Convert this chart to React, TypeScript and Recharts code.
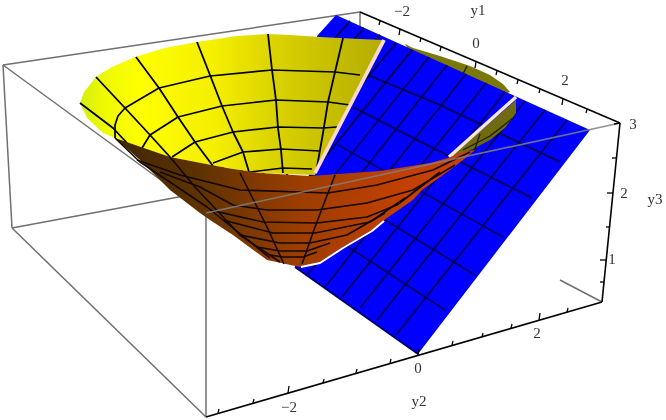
import React from "react";
import { ScatterChart, Scatter, XAxis, YAxis } from "recharts";

type P = [number, number];

const boxBack: P[][] = [
  [[3, 65], [360, 12], [360, 30]],
  [[3, 65], [12, 228]],
  [[3, 65], [206, 213]],
  [[12, 228], [200, 193]],
  [[12, 228], [206, 417]],
  [[206, 213], [206, 417]],
  [[560, 280], [602, 302]],
];
const boxFront: P[] = [[206, 213], [620, 123]];
const axisY1: P[] = [[360, 12], [620, 123]];
const axisY3: P[] = [[620, 123], [602, 302]];
const axisY2: P[] = [[206, 417], [602, 302]];
const y1Ticks: P[][] = [
  [[380, 21], [379, 25]], [[400, 29], [399, 35]], [[421, 38], [420, 42]], [[441, 47], [440, 51]],
  [[476, 62], [475, 68]], [[497, 71], [496, 75]], [[518, 80], [517, 84]], [[540, 89], [539, 93]],
  [[563, 98], [562, 105]], [[587, 109], [586, 113]],
];
const y2Ticks: P[][] = [
  [[218, 413], [219, 409]], [[253, 403], [254, 399]], [[288, 393], [289, 386]], [[323, 383], [324, 379]],
  [[356, 373], [357, 369]], [[390, 363], [391, 359]], [[418, 355], [419, 349]], [[452, 345], [453, 341]],
  [[482, 337], [483, 333]], [[511, 328], [512, 324]], [[539, 320], [540, 313]], [[567, 312], [568, 308]],
];
const y3Ticks: P[][] = [
  [[620, 123], [614, 124]], [[616, 158], [612, 158]], [[613, 193], [607, 193]], [[610, 227], [606, 227]],
  [[606, 260], [600, 260]], [[604, 282], [600, 282]],
];

const planeOutline: P[] = [[336, 15], [590, 130], [418, 354], [295, 267], [300, 220], [325, 120], [317, 36]];
const planeFarTop: P[] = [[418, 354], [295, 267]];
const planeLinesA: P[][] = [
  [[396, 335], [567, 120]], [[377, 320], [545, 110]], [[360, 308], [525, 101]], [[342, 297], [505, 92]],
  [[325, 287], [486, 83]], [[307, 275], [466, 74]], [[290, 263], [447, 65]], [[273, 252], [429, 57]],
  [[257, 241], [412, 50]], [[241, 230], [396, 43]], [[225, 219], [380, 35]], [[209, 208], [364, 28]],
  [[195, 199], [350, 21]],
];
const planeLinesB: P[][] = [
  [[445, 310], [353, 250], [300, 215]],
  [[475, 275], [385, 220], [320, 182]],
  [[503, 237], [440, 202], [338, 145]],
  [[532, 198], [417, 140], [353, 107]],
  [[560, 162], [440, 105], [368, 75], [330, 58]],
];

const olivePieceTop: P[] = [[405, 44], [413, 48], [440, 56], [470, 66], [490, 75], [503, 84], [510, 92], [490, 100], [420, 70]];
const olivePieceSide: P[] = [[516, 100], [516, 113], [505, 128], [490, 140], [473, 149], [462, 154], [449, 158]];
const oliveLines: P[][] = [
  [[513, 118], [490, 136], [463, 150]],
  [[480, 134], [474, 152]],
  [[467, 66], [463, 74]],
];

const bowlInside: P[] = [
  [80, 103], [84, 92], [96, 77], [112, 67], [135, 57], [165, 48], [197, 42], [237, 36], [268, 34], [290, 35],
  [320, 37], [360, 39], [383, 40], [315, 175], [260, 173], [227, 168], [170, 157], [115, 138], [103, 133], [87, 118],
];
const insideRadial: P[][] = [
  [[80, 103], [113, 128], [127, 143]],
  [[96, 77], [125, 108], [150, 135], [170, 157]],
  [[136, 57], [159, 88], [178, 117], [195, 142], [213, 166]],
  [[197, 42], [210, 75], [222, 106], [233, 132], [243, 152], [249, 172]],
  [[268, 34], [272, 70], [276, 100], [278, 128], [281, 150], [283, 173]],
  [[343, 38], [335, 72], [328, 102], [323, 133], [317, 167]],
];
const insideRings: P[][] = [
  [[115, 138], [115, 125], [118, 116], [125, 108], [159, 88], [210, 76], [272, 70], [335, 72], [360, 75]],
  [[142, 148], [150, 135], [178, 117], [222, 106], [276, 100], [328, 102], [350, 105]],
  [[172, 157], [195, 142], [233, 132], [278, 127], [323, 128], [337, 127]],
  [[213, 163], [243, 152], [281, 149], [320, 151]],
  [[250, 172], [283, 168], [312, 169]],
];

const bowlOutside: P[] = [
  [115, 138], [170, 157], [227, 168], [260, 173], [310, 176], [380, 171], [430, 163], [448, 158], [463, 152], [475, 150],
  [463, 160], [450, 170], [422, 190], [413, 200], [387, 218], [372, 230], [343, 247], [320, 262], [300, 267], [267, 260],
  [233, 235], [210, 220], [200, 213], [170, 190], [140, 160],
];
const outsideRadial: P[][] = [
  [[115, 138], [140, 162], [207, 207], [270, 258]],
  [[170, 157], [195, 187], [240, 235], [280, 262]],
  [[240, 173], [250, 193], [267, 227], [284, 264]],
  [[335, 175], [328, 193], [315, 227], [302, 264]],
];
const outsideRings: P[][] = [
  [[137, 160], [180, 175], [240, 190], [328, 193], [377, 185], [433, 170], [470, 152]],
  [[160, 172], [200, 187], [233, 205], [267, 210], [317, 210], [367, 203], [413, 190], [455, 165]],
  [[210, 210], [263, 222], [317, 223], [367, 217], [397, 205], [440, 172]],
  [[223, 220], [273, 233], [315, 233], [370, 222], [405, 198]],
  [[240, 235], [280, 243], [310, 243], [347, 235], [385, 213]],
  [[257, 247], [280, 251], [307, 251], [330, 243]],
  [[270, 255], [283, 257], [303, 257], [317, 252]],
];

const stripeLeft: P[] = [[384, 40], [315, 173]];
const stripeRight: P[] = [[516, 97], [449, 157]];
const stripeBottom: P[] = [[301, 267], [320, 263], [343, 248], [372, 231], [384, 221]];

const tickLabels: { x: number; y: number; text: string }[] = [
  { x: 402, y: 11, text: "−2" }, { x: 476, y: 43, text: "0" }, { x: 565, y: 80, text: "2" },
  { x: 478, y: 10, text: "y1" }, { x: 633, y: 124, text: "3" }, { x: 624, y: 193, text: "2" },
  { x: 612, y: 259, text: "1" }, { x: 655, y: 199, text: "y3" }, { x: 289, y: 407, text: "−2" },
  { x: 418, y: 368, text: "0" }, { x: 537, y: 333, text: "2" }, { x: 419, y: 401, text: "y2" },
];

const rows = (pts: P[]) => pts.map(([x, y]) => ({ x, y }));
const noDot = () => <g />;

function path(points: { cx?: number; x?: number; cy?: number; y?: number }[], close: boolean) {
  return (
    points.map((p, i) => `${i ? "L" : "M"}${p.cx ?? p.x},${p.cy ?? p.y}`).join("") + (close ? "Z" : "")
  );
}

function area(key: string, pts: P[], fill: string) {
  return (
    <Scatter
      key={key}
      data={rows(pts)}
      isAnimationActive={false}
      shape={noDot}
      line={(p: any) => <path d={path(p.points, true)} fill={fill} stroke="none" />}
    />
  );
}

function stroke(key: string, pts: P[], color: string, width: number, opacity = 1) {
  return (
    <Scatter
      key={key}
      data={rows(pts)}
      isAnimationActive={false}
      shape={noDot}
      line={(p: any) => (
        <path
          d={path(p.points, false)}
          fill="none"
          stroke={color}
          strokeWidth={width}
          strokeOpacity={opacity}
          strokeLinejoin="round"
        />
      )}
    />
  );
}

const many = (key: string, lines: P[][], color: string, width: number, opacity = 1) =>
  lines.map((l, i) => stroke(`${key}${i}`, l, color, width, opacity));

export default function App() {
  return (
    <div style={{ position: "absolute", left: 0, top: 0, width: 666, height: 420, filter: "blur(0.55px)" }}>
      <ScatterChart width={666} height={420} margin={{ top: 0, right: 0, bottom: 0, left: 0 }}>
        <defs>
          <linearGradient id="inside" x1="0" x2="1" y1="0" y2="0">
            <stop offset="0" stopColor="#d4ee10" />
            <stop offset="0.08" stopColor="#eefa00" />
            <stop offset="0.2" stopColor="#ffff00" />
            <stop offset="0.45" stopColor="#f4ee00" />
            <stop offset="0.63" stopColor="#dcd400" />
            <stop offset="0.83" stopColor="#c6be00" />
            <stop offset="1" stopColor="#b4ac00" />
          </linearGradient>
          <linearGradient id="outside" x1="0" x2="1" y1="0" y2="0">
            <stop offset="0" stopColor="#3f2600" />
            <stop offset="0.24" stopColor="#5f3300" />
            <stop offset="0.5" stopColor="#9a3d00" />
            <stop offset="0.78" stopColor="#c04000" />
            <stop offset="1" stopColor="#c84010" />
          </linearGradient>
        </defs>
        <XAxis type="number" dataKey="x" domain={[0, 666]} hide allowDataOverflow />
        <YAxis type="number" dataKey="y" domain={[0, 420]} reversed hide allowDataOverflow />

        {many("back", boxBack, "#707070", 1.5)}
        {area("oliveTop", olivePieceTop, "#7c7808")}
        {many("oliveTopLine", [oliveLines[2]], "#222200", 1.4)}
        {area("plane", planeOutline, "#0000ff")}
        {many("a", planeLinesA, "#000066", 2)}
        {many("b", planeLinesB, "#000066", 2)}
        {stroke("edge", planeFarTop, "#000066", 2)}
        {area("oliveSide", olivePieceSide, "#706a10")}
        {many("oliveLine", oliveLines.slice(0, 2), "#222200", 1.4)}
        {area("inside", bowlInside, "url(#inside)")}
        {many("ir", insideRadial, "#000000", 1.8)}
        {many("ic", insideRings, "#000000", 1.7)}
        {stroke("sl", stripeLeft, "#f8d8cc", 3.8)}
        {stroke("sr", stripeRight, "#f8e4e0", 3.4)}
        {area("outside", bowlOutside, "url(#outside)")}
        {many("or", outsideRadial, "#140800", 1.6)}
        {many("oc", outsideRings, "#140800", 1.6)}
        {stroke("sb", stripeBottom, "#ffffff", 2)}
        {stroke("front", boxFront, "#808080", 1.7, 0.85)}
        {stroke("y1", axisY1, "#000000", 1.6)}
        {stroke("y2", axisY2, "#000000", 1.6)}
        {stroke("y3", axisY3, "#000000", 1.6)}
        {many("t1", y1Ticks, "#000000", 1.3)}
        {many("t2", y2Ticks, "#000000", 1.3)}
        {many("t3", y3Ticks, "#000000", 1.3)}

        <Scatter
          data={tickLabels}
          isAnimationActive={false}
          shape={(p: any) => (
            <text
              x={p.cx}
              y={p.cy}
              dy="0.35em"
              textAnchor="middle"
              fontFamily="Liberation Serif"
              fontSize={15}
              fill="#333333"
            >
              {p.payload.text}
            </text>
          )}
        />
      </ScatterChart>
    </div>
  );
}
